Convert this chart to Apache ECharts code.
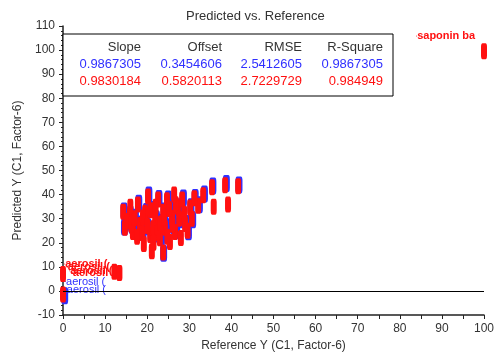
<!DOCTYPE html>
<html>
<head>
<meta charset="utf-8">
<script src="https://cdn.jsdelivr.net/npm/echarts@6/dist/echarts.min.js"></script>
<style>
  html, body { margin: 0; padding: 0; background: #fff; }
  #chart { width: 499px; height: 358px; }
</style>
</head>
<body>
<div id="chart"></div>
<script>
;(function(){

  // values
  var statHeader = ['Slope', 'Offset', 'RMSE', 'R-Square'];
  var statBlue = ['0.9867305', '0.3454606', '2.5412605', '0.9867305'];
  var statRed = ['0.9830184', '0.5820113', '2.7229729', '0.984949'];

  // cluster samples (reference, predicted)
  var blueRef  = [14.6, 16.0, 17.0, 18.0, 18.6, 19.8, 20.4, 21.0, 22.2, 22.8, 23.4, 24.0, 24.6, 25.0, 26.2, 27.0, 27.6, 28.6, 29.4, 30.4, 32.4, 33.6, 35.6, 38.8, 41.8, 23.9, 14.5,
                  15.4, 16.4, 17.2, 19.0, 19.4, 20.2, 21.0, 21.6, 22.4, 23.4, 24.2, 25.4, 26.2, 27.8, 28.6, 29.8, 30.8, 31.4, 0.4];
  var bluePred = [26.5, 31.9, 25.0, 36.4, 27.8, 33.0, 39.8, 23.6, 30.0, 38.4, 22.2, 33.2, 26.6, 38.2, 30.8, 25.0, 35.0, 38.6, 28.0, 35.0, 35.8, 40.2, 43.6, 44.6, 44.0, 15.6, 33.2,
                  28.6, 27.2, 30.6, 24.4, 30.2, 26.6, 33.8, 25.6, 23.6, 28.4, 30.8, 34.4, 27.2, 29.6, 31.6, 24.6, 29.6, 38.8, -2.0];
  var redRef  = [14.7, 15.9, 16.6, 17.8, 18.3, 19.5, 20.2, 20.7, 21.1, 21.9, 22.6, 23.0, 23.8, 24.2, 24.7, 25.4, 25.9, 26.6, 27.3, 28.3, 29.0, 30.2, 32.1, 33.3, 35.4, 35.8, 38.5, 39.2, 41.6, 23.8, 14.3,
                 15.2, 16.2, 17.0, 17.6, 18.8, 19.0, 20.0, 20.8, 21.4, 22.0, 22.4, 23.2, 24.0, 24.8, 25.2, 26.0, 26.8, 27.6, 28.0, 28.8, 29.6, 30.6, 31.2, 16.0, 19.2, 21.5, 26.4,
                 12.2, 13.4, 0.0, 0.0, 100.0];
  var redPred = [26.2, 31.6, 24.5, 35.9, 27.4, 32.5, 39.2, 23.2, 16.5, 29.5, 38.0, 21.9, 32.9, 26.2, 37.6, 20.3, 30.4, 24.5, 34.6, 38.0, 27.8, 34.6, 35.4, 39.7, 43.0, 35.0, 43.9, 35.9, 43.5, 16.0, 32.9,
                 29.0, 27.5, 30.2, 22.5, 24.0, 30.5, 27.0, 33.5, 26.0, 35.0, 24.0, 28.0, 30.5, 22.5, 34.0, 27.5, 36.0, 30.0, 22.0, 32.0, 25.0, 30.0, 38.5, 35.0, 19.5, 20.0, 40.0,
                 8.0, 7.4, 7.0, -1.5, 99.5];

  // labelled samples
  var blueLabelRef  = [0.6, 0.8];
  var blueLabelPred = [3.9, 0.6];
  var blueLabelName = ['aerosil (', 'aerosil ('];
  var redLabelRef  = [0.4, 1.0, 1.6, 2.2, 84.0];
  var redLabelPred = [11.2, 9.8, 8.4, 7.6, 105.8];
  var redLabelName = ['aerosil (', 'aerosil (', 'aerosil (', 'aerosil', 'saponin ba'];

  var blue = '#3030ff';
  var red = '#ff1010';
  var font = '"Liberation Sans", Arial, sans-serif';

  function pairs(xs, ys) {
    var out = [];
    for (var i = 0; i < xs.length; i++) out.push([xs[i], ys[i]]);
    return out;
  }
  function named(xs, ys, names) {
    var out = [];
    for (var i = 0; i < xs.length; i++) out.push({ name: names[i], value: [xs[i], ys[i]] });
    return out;
  }

  var myChart = echarts.init(document.getElementById('chart'));

  var cols = [141, 222, 302, 383];
  var tableTexts = [];
  [statHeader, statBlue, statRed].forEach(function(row, r){
    row.forEach(function(t, c){
      tableTexts.push({
        type: 'text', z: 11,
        x: cols[c], y: 47 + r * 17,
        style: {
          text: t, align: 'right', verticalAlign: 'middle',
          fontSize: 13, fontFamily: font,
          fill: r === 0 ? '#333' : (r === 1 ? blue : red)
        }
      });
    });
  });

  var axisStyle = {
    axisLine: { show: true, onZero: false, lineStyle: { color: '#222', width: 1.5 } },
    axisTick: { show: true, length: 4, lineStyle: { color: '#222' } },
    splitLine: { show: false },
    axisLabel: { color: '#333', fontSize: 12, fontFamily: font }
  };

  var option = {
    animation: false,
    textStyle: { fontFamily: font },
    title: {
      text: 'Predicted vs. Reference',
      left: 181, top: 5,
      textStyle: { fontSize: 13, fontWeight: 'normal', color: '#333', fontFamily: font }
    },
    grid: { left: 63, right: 15, top: 26, bottom: 43 },
    xAxis: Object.assign({
      type: 'value', min: 0, max: 100, interval: 10,
      name: 'Reference Y (C1, Factor-6)', nameLocation: 'middle', nameGap: 23,
      nameTextStyle: { color: '#333', fontSize: 12, fontFamily: font },
      minorTick: { show: true, splitNumber: 2, length: 4, lineStyle: { color: '#222' } }
    }, axisStyle),
    yAxis: Object.assign({
      type: 'value', min: -10, max: 110, interval: 10,
      name: 'Predicted Y (C1, Factor-6)', nameLocation: 'middle', nameGap: 30,
      nameTextStyle: { color: '#333', fontSize: 12, fontFamily: font },
      minorTick: { show: true, splitNumber: 5, length: 2, lineStyle: { color: '#222' } }
    }, axisStyle),
    graphic: [{
      type: 'rect', z: 10,
      shape: { x: 63, y: 34, width: 330, height: 62 },
      style: { fill: '#fff', stroke: '#000', lineWidth: 1 }
    }].concat(tableTexts),
    series: [
      {
        name: 'blue', type: 'scatter', z: 2,
        symbol: 'roundRect', symbolSize: [7, 17],
        itemStyle: { color: blue, opacity: 1 },
        data: pairs(blueRef, bluePred),
        markLine: {
          silent: true, symbol: 'none', label: { show: false },
          lineStyle: { color: '#000', width: 1, type: 'solid' },
          data: [{ yAxis: 0 }]
        }
      },
      {
        name: 'blue labels', type: 'scatter', z: 2,
        symbolSize: 1, itemStyle: { color: blue, opacity: 1 },
        label: {
          show: true, position: 'right', distance: 0,
          formatter: '{b}', color: blue, fontSize: 11, fontFamily: font
        },
        data: named(blueLabelRef, blueLabelPred, blueLabelName)
      },
      {
        name: 'red', type: 'scatter', z: 3,
        symbol: 'roundRect', symbolSize: [6, 16],
        itemStyle: { color: red, opacity: 1 },
        data: pairs(redRef, redPred)
      },
      {
        name: 'red labels', type: 'scatter', z: 3,
        symbolSize: 1, itemStyle: { color: red, opacity: 1 },
        label: {
          show: true, position: 'right', distance: 0,
          formatter: '{b}', color: red, fontSize: 11, fontWeight: 'bold', fontFamily: font
        },
        data: named(redLabelRef, redLabelPred, redLabelName)
      }
    ]
  };

  myChart.setOption(option);

})();
</script>
</body>
</html>
